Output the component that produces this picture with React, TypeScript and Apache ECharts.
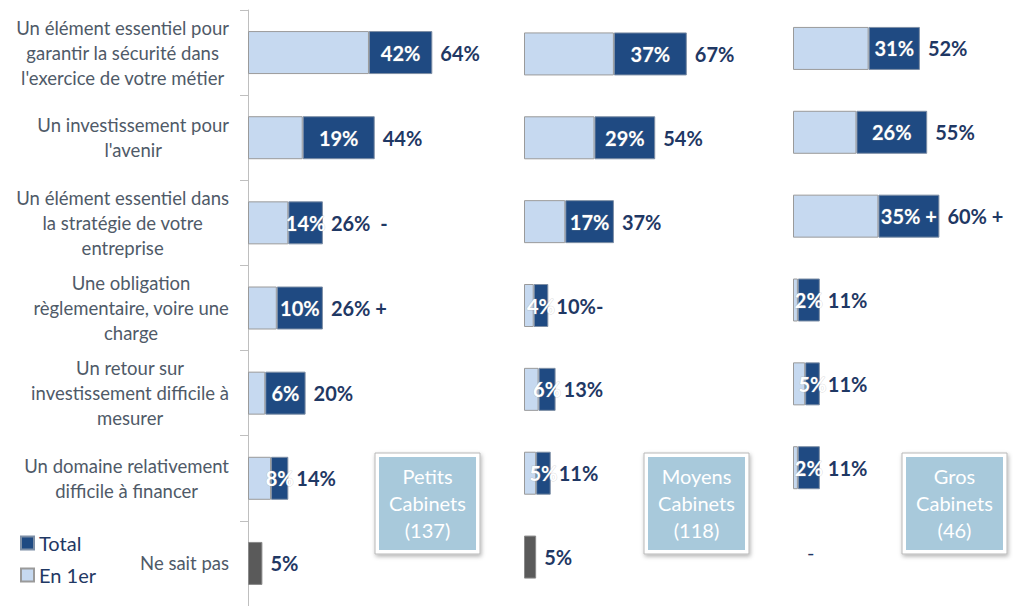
import React, { useEffect, useRef } from "react";
import * as echarts from "echarts";

const categories = [
  "Un élément essentiel pour\ngarantir la sécurité dans\nl'exercice de votre métier",
  "Un investissement pour\nl'avenir",
  "Un élément essentiel dans\nla stratégie de votre\nentreprise",
  "Une obligation\nrèglementaire, voire une\ncharge",
  "Un retour sur\ninvestissement difficile à\nmesurer",
  "Un domaine relativement\ndifficile à financer",
  "Ne sait pas",
];

const panelNames = ["Petits\nCabinets\n(137)", "Moyens\nCabinets\n(118)", "Gros\nCabinets\n(46)"];

const en1erPetits = [42, 19, 14, 10, 6, 8];
const totalPetits = [64, 44, 26, 26, 20, 14];
const en1erMoyens = [37, 29, 17, 4, 6, 5];
const totalMoyens = [67, 54, 37, 10, 13, 11];
const en1erGros = [31, 26, 35, 2, 5, 2];
const totalGros = [52, 55, 60, 11, 11, 11];
const neSaitPas = [5, 5, null];

const totalSuffixPetits = ["", "", "  -", " +", "", ""];
const totalSuffixMoyens = ["", "", "", "-", "", ""];
const totalSuffixGros = ["", "", " +", "", "", ""];
const en1erSuffixPetits = ["", "", "", "", "", ""];
const en1erSuffixMoyens = ["", "", "", "", "", ""];
const en1erSuffixGros = ["", "", " +", "", "", ""];

const panels = [
  { en1er: en1erPetits, total: totalPetits, nsp: neSaitPas[0], ts: totalSuffixPetits, es: en1erSuffixPetits },
  { en1er: en1erMoyens, total: totalMoyens, nsp: neSaitPas[1], ts: totalSuffixMoyens, es: en1erSuffixMoyens },
  { en1er: en1erGros, total: totalGros, nsp: neSaitPas[2], ts: totalSuffixGros, es: en1erSuffixGros },
];

const FONT = "Lato";
const DARK = "#1f4a82";
const LIGHT = "#c6d9f0";
const NAVY = "#1f3864";
const GREY = "#5a5a5a";
const BORDER = "#9a9a9a";

const grids = [
  { left: 248, top: 10, width: 288, height: 600 },
  { left: 524, top: 12, width: 243, height: 587 },
  { left: 793, top: 6.5, width: 219.6, height: 587 },
];
const axisMax = [100, 100, 90];

const boxes = [
  { x: 375, y: 453 },
  { x: 644, y: 453 },
  { x: 902, y: 453 },
];

export default function App() {
  const ref = useRef<HTMLDivElement>(null);
  useEffect(() => {
    if (!ref.current) return;
    const chart = echarts.init(ref.current, undefined, { renderer: "svg" });
    const BW = 43;
    const series: any[] = [];
    panels.forEach((p, i) => {
      const totalData: any[] = p.total.map((v) => v);
      if (p.nsp === null) {
        totalData.push({ value: 0, label: { distance: 14, fontWeight: "normal" } });
      } else {
        totalData.push(p.nsp);
      }
      series.push({
        type: "bar",
        name: "lbl" + i,
        xAxisIndex: i,
        yAxisIndex: i,
        barWidth: BW,
        barGap: "-100%",
        silent: true,
        data: totalData,
        itemStyle: { color: "rgba(0,0,0,0)" },
        label: {
          show: true,
          position: "right",
          distance: 8,
          color: NAVY,
          fontFamily: FONT,
          fontWeight: "bold",
          fontSize: 20,
          formatter: (q: any) => {
            if (q.dataIndex === 6) return p.nsp === null ? "-" : p.nsp + "%";
            return q.value + "%" + p.ts[q.dataIndex];
          },
        },
        z: 1,
      });
      series.push({
        type: "bar",
        name: "En 1er",
        xAxisIndex: i,
        yAxisIndex: i,
        stack: "s" + i,
        barWidth: BW,
        barGap: "-100%",
        data: [...p.en1er, null],
        itemStyle: { color: LIGHT, borderColor: BORDER, borderWidth: 1 },
        z: 2,
      });
      series.push({
        type: "bar",
        name: "Total",
        xAxisIndex: i,
        yAxisIndex: i,
        stack: "s" + i,
        barWidth: BW,
        barGap: "-100%",
        data: [...p.total.map((t, k) => t - p.en1er[k]), null],
        itemStyle: { color: DARK, borderColor: "#7d8ea5", borderWidth: 1 },
        label: {
          show: true,
          position: "inside",
          color: "#ffffff",
          fontFamily: FONT,
          fontWeight: "bold",
          fontSize: 20,
          textBorderColor: "rgba(150,150,150,0.35)",
          textBorderWidth: 1,
          formatter: (q: any) => p.en1er[q.dataIndex] + "%" + p.es[q.dataIndex],
        },
        z: 3,
      });
      series.push({
        type: "bar",
        name: "nsp" + i,
        xAxisIndex: i,
        yAxisIndex: i,
        stack: "s" + i,
        barWidth: BW,
        barGap: "-100%",
        data: [null, null, null, null, null, null, p.nsp],
        itemStyle: { color: GREY, borderColor: "#8a8a8a", borderWidth: 1 },
        z: 2,
      });
    });

    const graphic: any[] = boxes.map((b, i) => ({
      type: "group",
      x: b.x,
      y: b.y,
      children: [
        {
          type: "rect",
          shape: { x: 0, y: 0, width: 105, height: 101 },
          style: {
            fill: "#ffffff",
            stroke: "#b8b8b8",
            lineWidth: 1,
            shadowBlur: 4,
            shadowOffsetX: 1,
            shadowOffsetY: 2,
            shadowColor: "rgba(0,0,0,0.3)",
          },
        },
        {
          type: "rect",
          shape: { x: 4, y: 4, width: 97, height: 93 },
          style: { fill: "#a8c9db" },
        },
        {
          type: "text",
          x: 52.5,
          y: 50,
          style: {
            text: panelNames[i],
            fill: "#ffffff",
            fontSize: 20,
            fontFamily: FONT,
            lineHeight: 27,
            align: "center",
            verticalAlign: "middle",
          },
        },
      ],
    }));

    chart.setOption({
      animation: false,
      textStyle: { fontFamily: FONT },
      legend: {
        data: ["Total", "En 1er"],
        orient: "vertical",
        left: 15,
        top: 528,
        itemWidth: 13,
        itemHeight: 13,
        itemGap: 12,
        icon: "rect",
        textStyle: { color: NAVY, fontSize: 20, fontFamily: FONT },
        selectedMode: false,
      },
      grid: grids.map((g) => ({ ...g })),
      xAxis: grids.map((_, i) => ({
        type: "value",
        gridIndex: i,
        min: 0,
        max: axisMax[i],
        show: false,
      })),
      yAxis: grids.map((_, i) => ({
        type: "category",
        gridIndex: i,
        inverse: true,
        data: categories,
        show: i === 0,
        axisLine: { show: i === 0, lineStyle: { color: "#bfbfbf", width: 1 } },
        axisTick: { show: i === 0, length: 8, lineStyle: { color: "#bfbfbf" } },
        axisLabel: {
          show: i === 0,
          align: "right",
          margin: 19,
          formatter: (v: string) =>
            v
              .split("\n")
              .map((l) => "{c|" + l + "}")
              .join("\n"),
          rich: {
            c: {
              align: "center",
              fontSize: 18.5,
              lineHeight: 25,
              color: "#4f5a68",
              fontFamily: FONT,
            },
          },
        },
        splitLine: { show: false },
      })),
      series,
      graphic,
    });
    return () => chart.dispose();
  }, []);
  return (
    <div
      ref={ref}
      style={{ position: "fixed", left: 0, top: 0, width: 1013, height: 606, background: "#ffffff" }}
    />
  );
}
